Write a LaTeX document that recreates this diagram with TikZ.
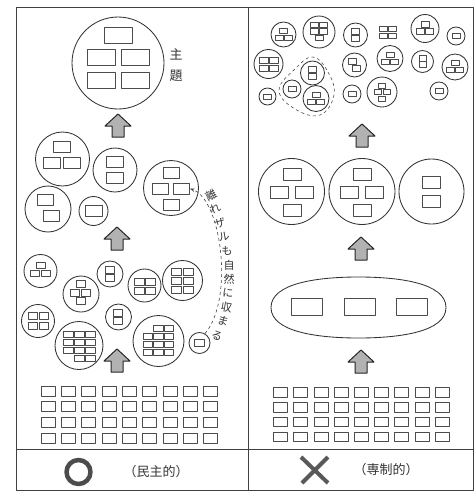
\documentclass[tikz,border=0pt]{standalone}
\usepackage{fontspec}
\newfontfamily\jp{Noto Sans CJK JP}
\usetikzlibrary{arrows.meta,positioning,calc}

% small boxes: centre x, centre y, width, height
\newcommand{\bx}[4]{\draw[bxl] ({#1-(#3)/2},{#2-(#4)/2}) rectangle ++(#3,#4);}
\newcommand{\trib}[6]{\bx{#1}{#2-#6}{#3}{#4}\bx{#1-#5}{#2+#6}{#3}{#4}\bx{#1+#5}{#2+#6}{#3}{#4}}
\newcommand{\twob}[5]{\bx{#1}{#2-#5}{#3}{#4}\bx{#1}{#2+#5}{#3}{#4}}
\newcommand{\quadb}[6]{\bx{#1-#5}{#2-#6}{#3}{#4}\bx{#1+#5}{#2-#6}{#3}{#4}\bx{#1-#5}{#2+#6}{#3}{#4}\bx{#1+#5}{#2+#6}{#3}{#4}}
\newcommand{\crossb}[6]{\bx{#1}{#2-#6}{#3}{#4}\bx{#1-#5}{#2}{#3}{#4}\bx{#1+#5}{#2}{#3}{#4}\bx{#1}{#2+#6}{#3}{#4}}

\begin{document}
\begin{tikzpicture}[x=1pt,y=-1pt,line join=round,
 ring/.style={circle,draw=black!80,line width=0.85pt,inner sep=0pt},
 bxl/.style={draw=black!70,line width=0.6pt},
 bxn/.style={draw=black!70,line width=0.6pt,inner sep=0pt},
 frm/.style={draw=black!75,line width=0.9pt},
 jtxt/.style={font=\jp\fontsize{13}{13}\selectfont,inner sep=0pt,text=black!80},
 uparr/.pic={\draw[black!85,line width=1pt,fill=black!30] (-6,0) -- (-6,-11) -- (-13,-11) -- (0,-23) -- (13,-11) -- (6,-11) -- (6,0) -- cycle;}]
\useasboundingbox (0,0) rectangle (476,493);
% frame
\draw[frm] (16,7) rectangle (473,490); \draw[frm] (248,7) -- (248,490); \draw[frm] (16,449) -- (473,449);

% ---- left: democratic ----
\node[ring,minimum size=92] (theme) at (118,63) {};
\bx{118}{35}{28}{16} \bx{101}{57}{28}{16} \bx{135}{57}{28}{16} \bx{101}{80}{28}{16} \bx{135}{80}{28}{16}
\node[jtxt] (shu) at (176,54) {主};
\node[jtxt] (dai) at (176,76) {題};
\pic at (118,137) {uparr};
\node[ring,minimum size=54] (ga) at (62.5,159) {}; \trib{62}{155}{17}{11}{10}{8}
\node[ring,minimum size=44] (gb) at (115,170) {}; \twob{115}{170}{17}{11}{8}
\node[ring,minimum size=46] (gc) at (48,209) {}; \bx{45}{200}{16}{11} \bx{51}{216}{16}{11}
\node[ring,minimum size=29] (gd) at (93.5,211) {}; \bx{93.5}{211}{17}{11}
\node[ring,minimum size=55] (ge) at (171,188) {}; \bx{171}{173}{16}{11} \bx{160.5}{188.5}{16}{11} \bx{171}{205}{16}{11}
\node[bxn,minimum width=16,minimum height=11] (er) at (181.5,188.5) {};
\pic at (117,250) {uparr};
\node[ring,minimum size=33] (gg) at (40.5,271) {}; \trib{40.5}{269.5}{9}{6}{5.5}{4}
\node[ring,minimum size=36] (gh) at (81,294) {}; \crossb{80.5}{292.5}{9}{7}{5.5}{8.5}
\node[ring,minimum size=26] (gi) at (110,274) {}; \twob{110}{274}{9}{7}{4}
\node[ring,minimum size=33] (gj) at (144.5,285.5) {}; \quadb{145}{286}{10}{7}{5.5}{4.5}
\node[ring,minimum size=40] (gk) at (182.5,280.5) {};
\foreach \j in {0,1,2} {\bx{176.5}{271.5+9*\j}{10}{7} \bx{188.5}{271.5+9*\j}{10}{7}}
\node[ring,minimum size=33] (gl) at (38,321) {}; \quadb{38.5}{321}{9}{7}{5.5}{5}
\node[ring,minimum size=26] (gm) at (118.5,317) {}; \twob{118}{317}{9}{7}{4}
\node[ring,minimum size=48] (gn) at (79,345.5) {};
\foreach \j in {0,1,2} {\bx{68}{334+8*\j}{10}{6}} \foreach \i in {79,90} \foreach \j in {0,...,3} {\bx{\i}{334+8*\j}{10}{6}}
\node[ring,minimum size=51] (go) at (158.5,341) {};
\bx{158.5}{328}{9.5}{6} \bx{169}{328}{9.5}{6}
\foreach \i in {148,158.5,169} \foreach \j in {0,1,2} {\bx{\i}{336.5+8*\j}{9.5}{6}}
\node[ring,minimum size=21] (gf) at (199.5,343) {};
\node[bxn,minimum width=10,minimum height=7] (fr) at (199.5,343) {};
\draw[dashed,black!75,line width=0.6pt,-{Stealth[length=5pt,width=3.5pt]}] (gf.60) .. controls (234,300) and (222,200) .. (er.east);
\foreach \ch/\px/\py/\rt [count=\k] in {離/211/195/28,れ/215/209/22,ザ/220/223/15,ル/224/237/10,も/227/251/5,自/229/265/0,然/229/279/0,に/228/293/-5,収/226.5/307/-10,ま/223/321/-15,る/217/336/-22}
 \node[jtxt,font=\jp\fontsize{11}{11}\selectfont,rotate=\rt] (cv\k) at (\px,\py) {\ch};
\pic at (117,372) {uparr};
\foreach \i in {0,...,8} \foreach \j in {0,...,3} {\bx{48+20.3*\i}{391+15.6*\j}{14}{10}}
\node[circle,draw=black!70,line width=4.5pt,minimum size=24,inner sep=0pt] (yes) at (78.5,472) {};
\node[jtxt] (demo) at (156,472) {（民主的）};

% ---- right: autocratic ----
\node[ring,minimum size=25] (c1) at (283.5,34.5) {}; \trib{283.5}{34}{8}{5}{4.5}{3.5}
\node[ring,minimum size=32] (c2) at (319,32) {}; \bx{314.5}{25}{8}{5.5} \bx{323.5}{25}{8}{5.5} \bx{314.5}{31.5}{8}{5.5} \bx{323.5}{31.5}{8}{5.5} \bx{319}{38}{8}{5.5}
\node[ring,minimum size=29] (c3) at (268.5,64) {}; \quadb{268.5}{64}{9}{6}{5}{4}
\node[ring,minimum size=24] (c4) at (312.5,73) {}; \twob{312.5}{73}{8}{6}{3.5}
\node[ring,minimum size=18] (c5) at (292,89) {}; \bx{292}{89}{8}{5}
\node[ring,minimum size=26] (c6) at (316,98.5) {}; \trib{316}{98}{8}{5}{4.5}{3.5}
\node[ring,minimum size=17] (c7) at (267.5,96.5) {}; \bx{267.5}{96.5}{8}{5}
\node[ring,minimum size=24] (c8) at (355.5,35) {}; \twob{355.5}{35}{8}{6}{3.5}
\quadb{387.5}{32.5}{8}{5}{4.5}{3.5}
\node[ring,minimum size=28] (c10) at (425,28.5) {}; \trib{425}{28}{8}{5.5}{4.5}{3.5}
\node[ring,minimum size=18] (c11) at (456,36) {}; \bx{456}{36}{8}{5}
\node[ring,minimum size=24] (c12) at (354.5,65) {}; \bx{352.5}{61}{8}{6} \bx{356.5}{68.5}{8}{6}
\node[ring,minimum size=26] (c13) at (390,58.5) {}; \trib{390}{58}{8}{5}{4.5}{3.5}
\node[ring,minimum size=22] (c14) at (422.5,61.5) {}; \twob{422.5}{61.5}{7}{5.5}{3}
\node[ring,minimum size=26] (c15) at (455,67) {}; \trib{455}{66.5}{8}{5}{4.5}{3.5}
\node[ring,minimum size=18] (c16) at (352,94) {}; \bx{352}{94}{8}{5}
\node[ring,minimum size=30] (c17) at (382,92) {}; \crossb{382}{92}{7}{5}{4.5}{6.5}
\node[ring,minimum size=18] (c18) at (439,91) {}; \bx{439}{91}{8}{5}
\draw[dashed,black!70,line width=0.6pt] plot[smooth cycle,tension=0.7] coordinates {(313,57) (328,72) (334,95) (320,115) (295,109) (279,90) (296,68)};
\pic at (362,147) {uparr};
\node[ring,minimum size=66] (sp) at (291.5,191.5) {}; \crossb{292}{192}{18}{12}{12.5}{18}
\node[ring,minimum size=66] (sq) at (362,191.5) {}; \crossb{362}{192}{18}{12}{12.5}{18}
\node[ring,minimum size=65] (sr) at (431.5,191.5) {}; \twob{431}{192}{18}{12}{9.5}
\pic at (361,260) {uparr};
% flattened oval round the three boxes
\draw[draw=black!80,line width=0.85pt] (271,307.5) .. controls (271,283) and (318,277) .. (358.5,277) .. controls (399,277) and (446,283) .. (446,307.5) .. controls (446,332) and (399,338) .. (358.5,338) .. controls (318,338) and (271,332) .. (271,307.5) -- cycle;
\bx{306.5}{306.5}{31}{17} \bx{359.5}{306.5}{31}{17} \bx{412}{306.5}{31}{17}
\pic at (361,373) {uparr};
\foreach \i in {0,...,8} \foreach \j in {0,...,3} {\bx{280.5+20.2*\i}{392.5+14.7*\j}{14}{9.5}}
\draw[black!65,line width=4pt] (301,457) -- (328,483) (328,457) -- (302,483);
\node[jtxt] (auto) at (386,470) {（専制的）};
\end{tikzpicture}
\end{document}
